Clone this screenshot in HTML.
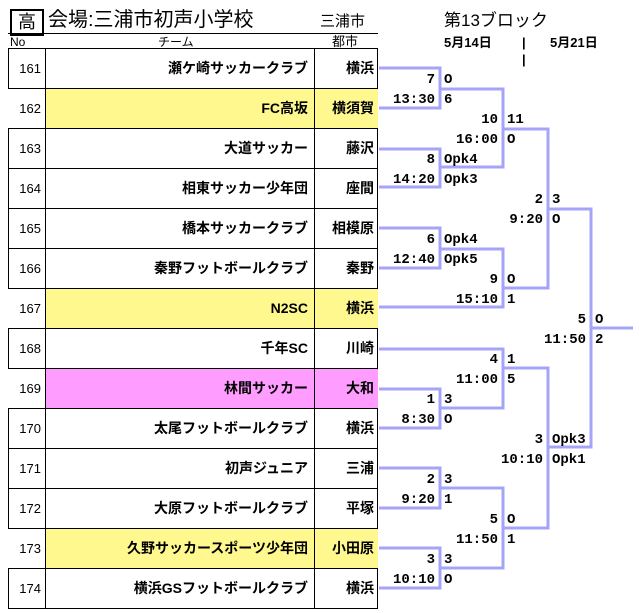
<!DOCTYPE html>
<html><head><meta charset="utf-8"><style>
body{margin:0;width:643px;height:613px;background:#fff;position:relative;overflow:hidden;font-family:"Liberation Sans","Noto Sans CJK JP",sans-serif;color:#000}
.a{position:absolute;white-space:nowrap}
.row{position:absolute;left:8px;width:370px;height:40px;border-top:1px solid #000;box-sizing:border-box}
.no{position:absolute;left:0;width:38px;top:0;height:39px;line-height:39px;text-align:right;font-size:13px;padding-right:4px;box-sizing:border-box;border-right:1px solid #000}
.tm{position:absolute;left:38px;width:269px;top:0;height:39px;line-height:39px;text-align:right;font-size:14px;font-weight:bold;padding-right:6px;box-sizing:border-box;border-right:1px solid #000}
.ct{position:absolute;left:307px;width:63px;top:0;height:39px;line-height:39px;text-align:right;font-size:14px;font-weight:bold;padding-right:4px;box-sizing:border-box}
.y{background:#fff88f}.p{background:#ff9cff}
.s{position:absolute;font-family:"Liberation Mono",monospace;font-weight:bold;font-size:14px;line-height:16px;white-space:nowrap}
</style></head><body>
<div class="a" style="left:10px;top:9px;width:30px;height:23px;border:2px solid #000;font-size:18px;line-height:23px;text-align:center">高</div>
<div class="a" style="left:48px;top:7px;font-size:20px;line-height:26px">会場:三浦市初声小学校</div>
<div class="a" style="left:320px;top:12px;font-size:15px;line-height:20px">三浦市</div>
<div class="a" style="left:8px;top:33px;width:370px;height:1px;background:#000"></div>
<div class="a" style="left:10px;top:35px;font-size:12px;line-height:14px">No</div>
<div class="a" style="left:158px;top:35px;font-size:12px;line-height:14px">チーム</div>
<div class="a" style="left:332px;top:35px;font-size:13px;line-height:14px">都市</div>
<div class="a" style="left:444px;top:10px;font-size:17px;line-height:22px">第13ブロック</div>
<div class="a" style="left:444px;top:35px;font-size:13px;font-weight:bold;line-height:16px">5月14日</div>
<div class="a" style="left:522px;top:35px;font-size:13px;font-weight:bold;line-height:16px">|</div>
<div class="a" style="left:522px;top:52px;font-size:13px;font-weight:bold;line-height:16px">|</div>
<div class="a" style="left:550px;top:35px;font-size:13px;font-weight:bold;line-height:16px">5月21日</div>

<div style="position:absolute;left:8px;top:48px;width:370px;height:561px;border:1px solid #000;border-top:none;box-sizing:border-box"></div>
<div class="row" style="top:48px"><div class="no">161</div><div class="tm">瀬ケ崎サッカークラブ</div><div class="ct">横浜</div></div>
<div class="row y" style="top:88px"><div class="no" style="background:#fff">162</div><div class="tm">FC高坂</div><div class="ct">横須賀</div></div>
<div class="row" style="top:128px"><div class="no">163</div><div class="tm">大道サッカー</div><div class="ct">藤沢</div></div>
<div class="row" style="top:168px"><div class="no">164</div><div class="tm">相東サッカー少年団</div><div class="ct">座間</div></div>
<div class="row" style="top:208px"><div class="no">165</div><div class="tm">橋本サッカークラブ</div><div class="ct">相模原</div></div>
<div class="row" style="top:248px"><div class="no">166</div><div class="tm">秦野フットボールクラブ</div><div class="ct">秦野</div></div>
<div class="row y" style="top:288px"><div class="no" style="background:#fff">167</div><div class="tm">N2SC</div><div class="ct">横浜</div></div>
<div class="row" style="top:328px"><div class="no">168</div><div class="tm">千年SC</div><div class="ct">川崎</div></div>
<div class="row p" style="top:368px"><div class="no" style="background:#fff">169</div><div class="tm">林間サッカー</div><div class="ct">大和</div></div>
<div class="row" style="top:408px"><div class="no">170</div><div class="tm">太尾フットボールクラブ</div><div class="ct">横浜</div></div>
<div class="row" style="top:448px"><div class="no">171</div><div class="tm">初声ジュニア</div><div class="ct">三浦</div></div>
<div class="row" style="top:488px"><div class="no">172</div><div class="tm">大原フットボールクラブ</div><div class="ct">平塚</div></div>
<div class="row y" style="top:528px"><div class="no" style="background:#fff">173</div><div class="tm">久野サッカースポーツ少年団</div><div class="ct">小田原</div></div>
<div class="row" style="top:568px;height:41px;border-bottom:1px solid #000"><div class="no">174</div><div class="tm">横浜GSフットボールクラブ</div><div class="ct">横浜</div></div>

<svg style="position:absolute;left:0;top:0" width="643" height="613"><g fill="none" stroke="#a4a4f8" stroke-width="3">
<path d="M379 68H440V108H379M379 149H440V187H379M379 228H440V268H379M379 389H440V428H379M379 468H440V508H379M379 548H440V588H379"/>
<path d="M440 89H503V167H440M440 249H503V307H379M379 349H503V408H440M440 488H503V568H440"/>
<path d="M503 129H548V288H503M503 368H548V528H503"/>
<path d="M548 209H591V447H548M591 328H633"/>
</g></svg>
<div id="sc"></div>
<script>
var m=[[440,88,"7","13:30","O","6"],[440,168,"8","14:20","Opk4","Opk3"],[440,248,"6","12:40","Opk4","Opk5"],[440,408,"1","8:30","3","O"],[440,488,"2","9:20","3","1"],[440,568,"3","10:10","3","O"],
[503,128,"10","16:00","11","O"],[503,288,"9","15:10","O","1"],[503,368,"4","11:00","1","5"],[503,528,"5","11:50","O","1"],
[548,208,"2","9:20","3","O"],[548,448,"3","10:10","Opk3","Opk1"],[591,328,"5","11:50","O","2"]];
var h="";m.forEach(function(a){var x=a[0],y=a[1];
h+='<div class="s" style="right:'+(643-x+5)+'px;top:'+(y-16)+'px">'+a[2]+'</div>';
h+='<div class="s" style="right:'+(643-x+5)+'px;top:'+(y+4)+'px">'+a[3]+'</div>';
h+='<div class="s" style="left:'+(x+4)+'px;top:'+(y-16)+'px">'+a[4]+'</div>';
h+='<div class="s" style="left:'+(x+4)+'px;top:'+(y+4)+'px">'+a[5]+'</div>';});
document.getElementById("sc").innerHTML=h;
</script>
</body></html>
